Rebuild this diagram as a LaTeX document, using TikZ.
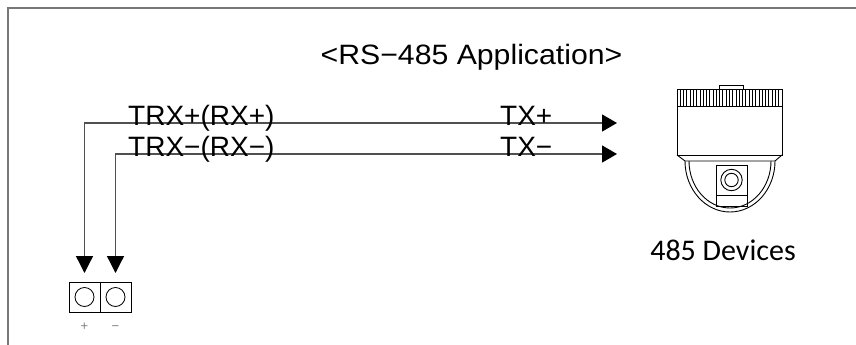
\documentclass[tikz,border=0pt]{standalone}
\usepackage{fontspec}
\setmainfont{Liberation Sans}
\newfontfamily\titlefont[FakeStretch=1.08]{Liberation Sans}
\newfontfamily\devfont{Carlito}
\usetikzlibrary{arrows.meta, positioning}
\definecolor{frameGray}{RGB}{120,120,120}
\definecolor{wireGray}{RGB}{80,80,80}

\begin{document}
\begin{tikzpicture}[x=1pt, y=-1pt,
		wire/.style={line width=1.3pt, wireGray, {Triangle[length=15pt, width=17pt, color=black]}-{Triangle[length=17pt, width=17pt, color=black]}},
		cell/.style={draw, line width=0.8pt, minimum width=31pt, minimum height=30pt, inner sep=0pt, outer sep=0pt,
			path picture={\draw[line width=0.8pt] (path picture bounding box.center) circle (9.5pt);}},
		lbl/.style={anchor=base west, inner sep=0pt, font=\fontsize{28}{31}\selectfont}]
	
	\useasboundingbox (0,0) rectangle (856,345);
	\draw[frameGray, line width=2pt] (8,345) |- (856,8);
	
	\node[anchor=base, inner sep=0pt, font=\titlefont\fontsize{28}{31}\selectfont] (title) at (471.5,64) {<RS−485 Application>};
	
	% terminal block
	\node[cell] (cp) at (84.5,297) {};
	\node[cell, right=0pt of cp] (cm) {};
	\node[anchor=base, inner sep=0pt, gray, font=\fontsize{13}{15}\selectfont] (lp) at (cp.south |- 0,330) {+};
	\node[anchor=base, inner sep=0pt, gray, font=\fontsize{13}{15}\selectfont] (lm) at (cm.south |- 0,330) {−};
	
	% camera
	\begin{scope}[line width=0.9pt]
		\draw (719,85) rectangle (743,89);
		\draw (677,89) rectangle (782,106);
		\foreach \i in {1,...,31}
			\draw ({677+\i*3.28},89) -- ++(0,17);
		\draw (677,106) rectangle (782,155);
		\draw (677,155) -- (685,161) -- (775,161) -- (782,155);
		\draw (685,161) arc [start angle=180, end angle=0, x radius=45, y radius=51];
		\draw (689,161) arc [start angle=180, end angle=0, x radius=41, y radius=47];
		\draw (716,165) rectangle (747,206);
		\draw (716,195) -- (747,195);
		\draw (731.5,180) circle (10.7pt);
		\draw (731.5,180) circle (6.7pt);
	\end{scope}
	\node[anchor=base, inner sep=0pt, font=\devfont\fontsize{30}{33}\selectfont] (dev) at (723,260) {485 Devices};
	
	% wires
	\coordinate (tplus) at (617,123);
	\coordinate (tminus) at (617,154);
	\draw[wire] (tplus) -| ([yshift=9pt]cp.north);
	\draw[wire] (tminus) -| ([yshift=9pt]cm.north);
	
	\node[lbl] (trxp) at (128,125) {TRX+(RX+)};
	\node[lbl] (trxm) at (128,156) {TRX−(RX−)};
	\node[lbl] (txp) at (500,125) {TX+};
	\node[lbl] (txm) at (500,156) {TX−};
\end{tikzpicture}
\end{document}
